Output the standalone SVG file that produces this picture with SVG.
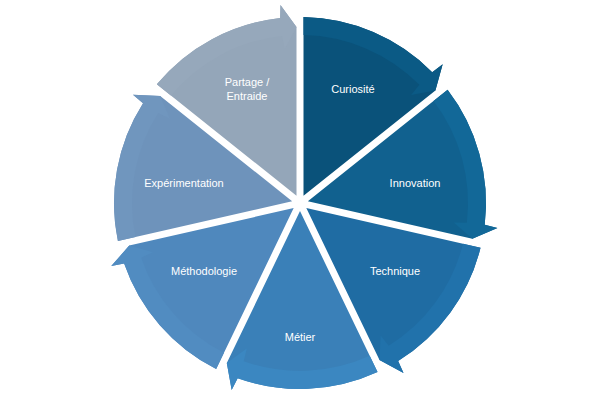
<svg xmlns="http://www.w3.org/2000/svg" width="600" height="408" viewBox="0 0 600 408">
<style>
text{font-family:"Liberation Sans",Arial,sans-serif;font-size:11px;fill:#ffffff;text-anchor:middle;dominant-baseline:central}
</style>
<rect width="600" height="408" fill="#ffffff"/>
<g id="node-curiosite">
<path fill="#0a527a" d="M303.50,195.73 L303.50,17.03 A186,186 0 0 1 432.21,72.17 L442.67,64.26 L435.39,90.55 Z"/>
<path fill="#0b5a85" d="M303.50,35.04 L303.50,17.03 A186,186 0 0 1 432.21,72.17 L442.67,64.26 L435.39,90.55 L411.12,94.94 L419.41,84.83 A168,168 0 0 0 303.50,35.04 Z"/>
<text x="353" y="89">Curiosité</text>
</g>
<g id="node-innovation">
<path fill="#11618f" d="M307.86,201.20 L447.58,89.79 A186,186 0 0 1 484.72,224.79 L497.42,228.04 L472.33,238.75 Z"/>
<path fill="#126898" d="M433.50,101.01 L447.58,89.79 A186,186 0 0 1 484.72,224.79 L497.42,228.04 L472.33,238.75 L453.77,222.50 L466.84,222.68 A168,168 0 0 0 433.50,101.01 Z"/>
<text x="415" y="183">Innovation</text>
</g>
<g id="node-technique">
<path fill="#1f6ca3" d="M306.31,208.03 L480.53,247.79 A186,186 0 0 1 398.13,361.01 L403.51,372.96 L379.50,360.02 Z"/>
<path fill="#2172ab" d="M462.97,243.79 L480.53,247.79 A186,186 0 0 1 398.13,361.01 L403.51,372.96 L379.50,360.02 L380.62,335.38 L388.63,345.72 A168,168 0 0 0 462.97,243.79 Z"/>
<text x="395" y="271">Technique</text>
</g>
<g id="node-metier">
<path fill="#3a80b8" d="M300,211.07 L377.54,372.07 A186,186 0 0 1 237.65,378.24 L231.66,389.90 L226.80,363.06 Z"/>
<path fill="#3b87c1" d="M369.72,355.85 L377.54,372.07 A186,186 0 0 1 237.65,378.24 L231.66,389.90 L226.80,363.06 L246.77,348.57 L243.68,361.28 A168,168 0 0 0 369.72,355.85 Z"/>
<text x="300" y="337">Métier</text>
</g>
<g id="node-methodologie">
<path fill="#4f88bd" d="M293.69,208.03 L216.16,369.03 A186,186 0 0 1 124.12,263.51 L111.27,266.10 L129.22,245.57 Z"/>
<path fill="#518cc1" d="M223.97,352.81 L216.16,369.03 A186,186 0 0 1 124.12,263.51 L111.27,266.10 L129.22,245.57 L153.00,252.15 L141.14,257.66 A168,168 0 0 0 223.97,352.81 Z"/>
<text x="204" y="271">Méthodologie</text>
</g>
<g id="node-experimentation">
<path fill="#6e93bb" d="M292.14,201.20 L117.92,240.97 A186,186 0 0 1 143.03,103.22 L133.00,94.79 L160.24,96.02 Z"/>
<path fill="#7096be" d="M135.47,236.96 L117.92,240.97 A186,186 0 0 1 143.03,103.22 L133.00,94.79 L160.24,96.02 L169.92,118.71 L158.22,112.88 A168,168 0 0 0 135.47,236.96 Z"/>
<text x="184" y="183">Expérimentation</text>
</g>
<g id="node-partage">
<path fill="#94a6b9" d="M296.50,195.73 L156.79,84.32 A186,186 0 0 1 280.14,18.06 L280.48,4.96 L296.50,27.03 Z"/>
<path fill="#96a8bb" d="M170.86,95.54 L156.79,84.32 A186,186 0 0 1 280.14,18.06 L280.48,4.96 L296.50,27.03 L284.80,48.75 L282.06,35.96 A168,168 0 0 0 170.86,95.54 Z"/>
<text x="247" y="82">Partage /</text>
<text x="247" y="96">Entraide</text>
</g>
</svg>
